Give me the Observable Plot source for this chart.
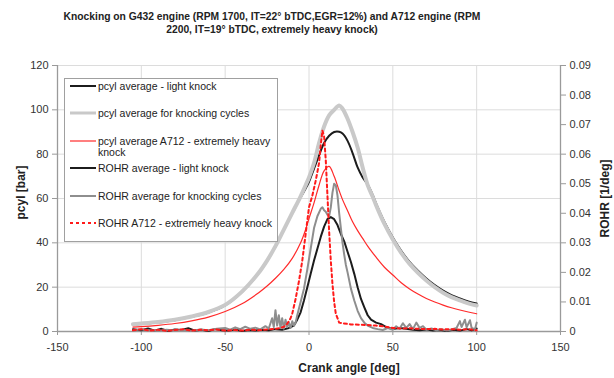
<!DOCTYPE html>
<html>
<head>
<meta charset="utf-8">
<script src="https://cdn.jsdelivr.net/npm/d3@7"></script>
<script src="https://cdn.jsdelivr.net/npm/@observablehq/plot@0.6"></script>
<style>
  html, body { margin: 0; padding: 0; background: white; }
  #wrap { position: relative; width: 614px; height: 378px; font-family: "Liberation Sans", Arial, sans-serif; }
  #title { position: absolute; left: 2px; top: 0; width: 540px; height: 42px; box-sizing: border-box; padding-top: 10px;
           text-align: center; font-weight: bold; font-size: 10.3px; line-height: 13px; color: #222; }
  #chart { position: absolute; left: 0; top: 42px; }
  #legend { position: absolute; left: 64px; top: 78px; width: 212px; height: 162px; border: 1px solid #a0a0a0; background: white;
            font-size: 10.5px; color: #222; }
  .lg-item { position: absolute; left: 0; width: 212px; }
  .lg-item svg { position: absolute; left: 5px; }
  .lg-item span { position: absolute; left: 33px; line-height: 11px; white-space: nowrap; }
</style>
</head>
<body>
<div id="wrap">
  <div id="title">Knocking on G432 engine (RPM 1700, IT=22° bTDC,EGR=12%) and A712 engine (RPM<br>2200, IT=19° bTDC, extremely heavy knock)</div>
  <div id="chart"></div>
  <div id="legend"></div>
</div>
<script>
// ---------- data ----------
const xTicks = [-150, -100, -50, 0, 50, 100, 150];
const yTicks = [0, 20, 40, 60, 80, 100, 120];
const rohrTicks = [0, 0.01, 0.02, 0.03, 0.04, 0.05, 0.06, 0.07, 0.08, 0.09];

const xLabel = "Crank angle [deg]";
const yLabel = "pcyl [bar]";
const y2Label = "ROHR [1/deg]";

const seriesNames = [
  "pcyl average - light knock",
  "pcyl average for knocking cycles",
  "pcyl average A712 - extremely heavy\nknock",
  "ROHR average - light knock",
  "ROHR average for knocking cycles",
  "ROHR A712 - extremely heavy knock"
];

// cylinder pressure [bar]
const xP = [-105,-100,-90,-80,-70,-60,-50,-40,-30,-25,-20,-15,-10,-5,-2,0,3,6,9,12,15,18,20,23,26,29,32,35,38,40,45,50,55,60,65,70,75,80,85,90,95,100];
const pcylKnock = [3.3,3.6,4.3,5.3,6.8,8.8,12,18,26.5,32,38.5,46,53.5,61,66,69.5,76,85,92.5,97.5,100,102,100.5,96,90,83,74,66,60.8,57,48.5,41.5,35.5,30.5,26.5,23,20,17.5,15.5,14,12.7,11.7];
const pcylLight = [3.1,3.4,4.1,5.1,6.6,8.6,11.8,17.8,26.3,31.8,38.3,45.8,53.2,60.5,64.5,67.5,73.5,79.5,85,88.3,90,90.1,89.3,86,80.5,74,69.5,66.3,61.6,57.8,49.4,42.4,36.4,31.4,27.4,23.9,20.9,18.4,16.4,14.9,13.6,12.6];
const pcylA712 = [2,2.2,2.8,3.6,4.8,6.5,9,12.5,17.5,20.5,24,28,33,40,46,51,58,66,72.5,74.5,70,63.5,59.5,54.5,49.5,45.5,42,38.5,35.5,33.5,29,25.5,22,19.2,16.9,14.9,13.3,11.9,10.7,9.7,8.8,8];

// rate of heat release [1/deg]
const xRl = [-105,-100,-96,-92,-88,-84,-80,-76,-72,-68,-64,-60,-56,-52,-48,-44,-40,-36,-32,-28,-24,-20,-16,-12,-9,-7,-5,-3,-1,1,3,5,7,9,11,13,15,17,19,21,23,25,27,29,31,33,35,37,40,43,46,50,54,58,62,66,70,74,78,82,86,90,94,97,100];
const rohrLight = [0.0008,0.0004,0.001,0.0003,0.0009,0.0002,0.0007,0.0005,0.0011,0.0003,0.0006,0.0002,0.0008,0.0004,0.0003,0.0007,0.0002,0.0005,0.0003,0.0006,0.0004,0.0008,0.0006,0.0012,0.002,0.004,0.0065,0.0105,0.015,0.0195,0.024,0.028,0.032,0.0355,0.038,0.0387,0.038,0.036,0.033,0.0305,0.027,0.0235,0.0195,0.015,0.011,0.0082,0.0055,0.004,0.003,0.0025,0.0015,0.0008,0.0012,0.0009,0.0006,0.0004,0.0007,0.0003,0.0005,0.0002,0.0006,0.0003,0.0008,0.0004,0.001];

const xRk = [-105,-100,-95,-90,-85,-80,-75,-70,-65,-60,-55,-50,-47,-44,-41,-38,-35,-32,-29,-26,-24,-22,-21,-20,-19,-18,-17,-16,-15,-14,-13,-12,-11,-10,-9,-8,-7,-5,-3,-1,1,3,5,7,8,9,10,11,12,13,14,15,16,17,18,19,20,21,22,23,25,27,29,31,33,35,38,41,44,47,50,52,54,56,58,60,62,64,66,68,70,73,76,79,82,85,88,90,91,93,94,96,97,99,100];
const rohrKnock = [0.0003,0.0008,0.0004,0.0002,0.0006,0.0003,0.0005,0.0002,0.0007,0.0004,0.0009,0.0012,0.0006,0.0014,0.0008,0.0016,0.0009,0.0013,0.0007,0.0018,0.001,0.0045,0.0015,0.0072,0.002,0.0055,0.0012,0.0045,0.001,0.004,0.0015,0.003,0.0012,0.0035,0.002,0.003,0.0055,0.01,0.0145,0.021,0.028,0.035,0.039,0.0415,0.042,0.041,0.0405,0.0395,0.039,0.042,0.047,0.05,0.0495,0.046,0.04,0.035,0.03,0.026,0.0225,0.02,0.0145,0.0105,0.007,0.0045,0.003,0.002,0.0012,0.0008,0.0005,0.0012,0.0006,0.0018,0.0009,0.0028,0.0012,0.0025,0.0008,0.003,0.0012,0.0018,0.0006,0.001,0.0004,0.0008,0.0003,0.0007,0.0012,0.0035,0.0015,0.004,0.0014,0.0038,0.0012,0.0008,0.003];

const xRa = [-105,-100,-95,-90,-85,-80,-75,-70,-65,-60,-55,-50,-45,-40,-35,-30,-25,-20,-17,-15,-13,-11,-10,-8,-6,-4,-2,0,2,4,6,7,8,9,10,11,12,13,14,15,16,18,20,25,30,35,40,45,50,55,60,65,70,75,80,85,90,95,100];
const rohrA712 = [0.0004,0.0008,0.0003,0.0006,0.0002,0.0005,0.0008,0.0003,0.0006,0.0004,0.0007,0.0003,0.0005,0.0003,0.0006,0.0004,0.0007,0.0009,0.0012,0.0016,0.0026,0.0045,0.006,0.011,0.017,0.024,0.033,0.042,0.046,0.051,0.057,0.063,0.068,0.066,0.058,0.046,0.034,0.024,0.016,0.01,0.006,0.003,0.0028,0.0024,0.0023,0.0022,0.002,0.0017,0.0012,0.001,0.0011,0.0009,0.0008,0.0009,0.0007,0.0008,0.0006,0.0008,0.0004];

// ---------- build ----------
const k = 120 / 0.09; // ROHR axis 0..0.09 shares the frame with pcyl 0..120
const zipP = ys => xP.map((x, i) => ({x, y: ys[i]}));
const zipR = (xs, ys) => xs.map((x, i) => ({x, y: ys[i] * k}));

const styles = [
  {stroke: "#1c1c1c", strokeWidth: 2},                        // pcyl light
  {stroke: "#c9c9c9", strokeWidth: 4},                        // pcyl knocking
  {stroke: "#ff2a2a", strokeWidth: 1.2},                      // pcyl A712
  {stroke: "#1c1c1c", strokeWidth: 2},                        // ROHR light
  {stroke: "#8e8e8e", strokeWidth: 2},                        // ROHR knocking
  {stroke: "#ff1a1a", strokeWidth: 2, strokeDasharray: "3,3"} // ROHR A712
];

const labelStyle = {fontWeight: "bold", fontSize: 12, fill: "#222", textAnchor: "middle", lineAnchor: "middle"};

const chart = Plot.plot({
  width: 614,
  height: 336,
  marginTop: 23,
  marginBottom: 47,
  marginLeft: 57,
  marginRight: 54,
  style: {fontFamily: "'Liberation Sans', Arial, sans-serif", fontSize: "11px", color: "#333", background: "white", overflow: "visible"},
  x: {domain: [-150, 150]},
  y: {domain: [0, 120]},
  marks: [
    Plot.gridX(xTicks.slice(1, -1), {stroke: "#dcdcdc", strokeOpacity: 1}),
    Plot.gridY(yTicks.slice(1), {stroke: "#dcdcdc", strokeOpacity: 1}),
    Plot.ruleX([-150, 150], {stroke: "#9a9a9a", strokeWidth: 1.3}),
    Plot.ruleY([0], {stroke: "#9a9a9a", strokeWidth: 1.3}),
    Plot.axisX(xTicks, {tickSize: 4, tickPadding: 8, stroke: "#9a9a9a", fill: "#333", tickFormat: d => String(d), label: null}),
    Plot.axisY(yTicks, {anchor: "left", tickSize: 5, tickPadding: 4, stroke: "#9a9a9a", fill: "#333", tickFormat: d => String(d), label: null}),
    Plot.axisY(rohrTicks.map(r => r * k), {anchor: "right", tickSize: 5, tickPadding: 4, stroke: "#9a9a9a", fill: "#333",
      tickFormat: d => { const v = Math.round(d / k * 100) / 100; return v === 0 ? "0" : v.toFixed(2); }, label: null}),
    Plot.text([xLabel], {frameAnchor: "bottom", dx: 40, dy: 37, ...labelStyle}),
    Plot.text([yLabel], {frameAnchor: "left", dx: -36, dy: -6, rotate: -90, ...labelStyle}),
    Plot.text([y2Label], {frameAnchor: "right", dx: 45, dy: 0, rotate: -90, ...labelStyle}),
    Plot.line(zipP(pcylLight), {x: "x", y: "y", ...styles[0], curve: "catmull-rom"}),
    Plot.line(zipP(pcylKnock), {x: "x", y: "y", ...styles[1], curve: "catmull-rom"}),
    Plot.line(zipP(pcylA712), {x: "x", y: "y", ...styles[2], curve: "catmull-rom"}),
    Plot.line(zipR(xRl, rohrLight), {x: "x", y: "y", ...styles[3]}),
    Plot.line(zipR(xRk, rohrKnock), {x: "x", y: "y", ...styles[4]}),
    Plot.line(zipR(xRa, rohrA712), {x: "x", y: "y", ...styles[5]})
  ]
});
document.getElementById("chart").appendChild(chart);

// legend (inside the plot area, top-left)
const legendRows = [7, 34, 62, 89, 117, 144]; // line-sample centre offsets within the box
const legend = document.getElementById("legend");
seriesNames.forEach((name, i) => {
  const item = document.createElement("div");
  item.className = "lg-item";
  item.style.top = (legendRows[i] - 6) + "px";
  const s = styles[i];
  const sw = Math.min(s.strokeWidth, 3);
  item.innerHTML = `<svg width="26" height="12"><line x1="0" x2="26" y1="6" y2="6" stroke="${s.stroke}" stroke-width="${sw}" ${s.strokeDasharray ? `stroke-dasharray="${s.strokeDasharray}"` : ""}/></svg>`;
  const span = document.createElement("span");
  span.style.top = "0.5px";
  span.innerHTML = name.split("\n").join("<br>");
  item.appendChild(span);
  legend.appendChild(item);
});
</script>
</body>
</html>
